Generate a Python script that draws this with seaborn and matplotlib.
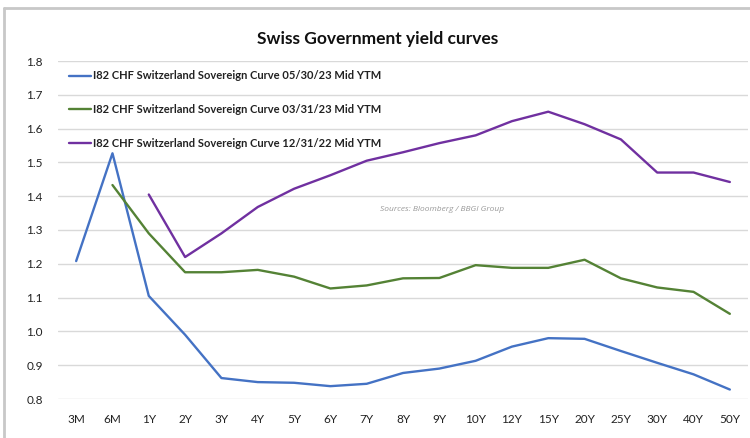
import numpy as np
import pandas as pd
import matplotlib
matplotlib.use("Agg")
import matplotlib.pyplot as plt
import seaborn as sns
from matplotlib.lines import Line2D

tenors = ["3M", "6M", "1Y", "2Y", "3Y", "4Y", "5Y", "6Y", "7Y", "8Y", "9Y",
          "10Y", "12Y", "15Y", "20Y", "25Y", "30Y", "40Y", "50Y"]

curve_may23 = [1.208, 1.527, 1.105, 0.990, 0.862, 0.850, 0.848, 0.838, 0.845, 0.877,
               0.890, 0.913, 0.955, 0.980, 0.978, 0.942, 0.907, 0.873, 0.828]
curve_mar23 = [np.nan, 1.433, 1.290, 1.175, 1.175, 1.182, 1.162, 1.127, 1.136, 1.157,
               1.158, 1.196, 1.188, 1.188, 1.212, 1.157, 1.130, 1.117, 1.052]
curve_dec22 = [np.nan, np.nan, 1.405, 1.220, 1.290, 1.368, 1.422, 1.462, 1.505, 1.530,
               1.557, 1.580, 1.622, 1.650, 1.613, 1.568, 1.470, 1.470, 1.442]

series_names = [
    "I82 CHF Switzerland Sovereign Curve 05/30/23 Mid YTM",
    "I82 CHF Switzerland Sovereign Curve 03/31/23 Mid YTM",
    "I82 CHF Switzerland Sovereign Curve 12/31/22 Mid YTM",
]
colors = ["#4472C4", "#548235", "#7030A0"]

y_ticks = [0.8, 0.9, 1.0, 1.1, 1.2, 1.3, 1.4, 1.5, 1.6, 1.7, 1.8]

sns.set_theme(style="white")
plt.rcParams["font.family"] = ["Lato", "DejaVu Sans"]

frames = []
for name, vals in zip(series_names, [curve_may23, curve_mar23, curve_dec22]):
    frames.append(pd.DataFrame({"pos": np.arange(len(tenors)), "yield": vals, "curve": name}))
df = pd.concat(frames, ignore_index=True)

fig = plt.figure(figsize=(7.5, 4.38), dpi=100)
ax = fig.add_axes([58 / 750, 1 - 399 / 438, 690 / 750, 338 / 438])

for name, color in zip(series_names, colors):
    sub = df[df["curve"] == name]
    sns.lineplot(data=sub, x="pos", y="yield", color=color, linewidth=1.7,
                 ax=ax, sort=False, legend=False)

ax.set_xlim(-0.5, len(tenors) - 0.5)
ax.set_ylim(0.8, 1.8)
ax.set_yticks(y_ticks)
ax.set_yticklabels([f"{v:.1f}" for v in y_ticks])
ax.set_xticks(np.arange(len(tenors)))
ax.set_xticklabels(tenors)
ax.tick_params(axis="y", length=0, pad=11, labelsize=8.5, colors="#222222")
ax.tick_params(axis="x", length=0, pad=11, labelsize=8.5, colors="#222222")
ax.set_xlabel("")
ax.set_ylabel("")
ax.yaxis.grid(True, color="#D9D9D9", linewidth=1.0)
ax.set_axisbelow(True)
for s in ax.spines.values():
    s.set_visible(False)

handles = [Line2D([0], [0], color=c, linewidth=1.7) for c in colors]
leg = ax.legend(handles, series_names, loc="upper left",
                bbox_to_anchor=(0.005, 0.995), frameon=False,
                fontsize=8, handlelength=2.0, handletextpad=0.1,
                labelspacing=2.05, borderaxespad=0.3)
for t in leg.get_texts():
    t.set_fontweight("bold")
    t.set_color("#222222")

fig.text(378 / 750, 1 - 39 / 438, "Swiss Government yield curves",
         ha="center", va="center", fontsize=12.5, fontweight="bold", color="#111111")

ax.text(442 / 750, 1 - 209 / 438, "Sources: Bloomberg / BBGI Group",
        transform=fig.transFigure, ha="center", va="center",
        fontsize=6, style="italic", color="#9A9A9A", family=["Open Sans", "DejaVu Sans"])

# outer frame of the chart panel
fig.add_artist(Line2D([4 / 750, 4 / 750], [0, 1 - 8 / 438], transform=fig.transFigure,
                      color="#C8C8C8", linewidth=2))
fig.add_artist(Line2D([4 / 750, 1], [1 - 8 / 438, 1 - 8 / 438], transform=fig.transFigure,
                      color="#C8C8C8", linewidth=2))

fig.savefig("out.png", dpi=100, facecolor="white")
